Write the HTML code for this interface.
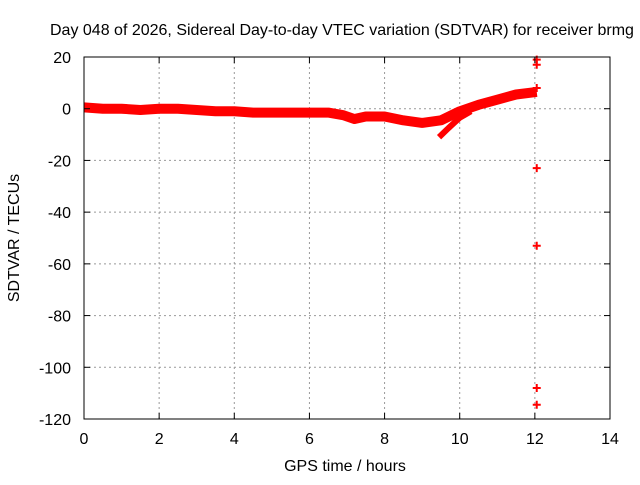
<!DOCTYPE html>
<html><head><meta charset="utf-8"><style>
body{margin:0;background:#fff}
svg text{font-family:"Liberation Sans",sans-serif;font-size:16px;fill:#000}
</style></head><body>
<svg id="c" width="640" height="480">
<rect width="640" height="480" fill="#fff"/>
<text x="50" y="35">Day 048 of 2026, Sidereal Day-to-day VTEC variation (SDTVAR) for receiver brmg</text>
<text x="345" y="471" text-anchor="middle">GPS time / hours</text>
<text transform="translate(19,238) rotate(-90)" text-anchor="middle">SDTVAR / TECUs</text>
<g id="grid"></g><g id="data"></g>
<rect x="84" y="57" width="526" height="362" fill="none" stroke="#000" stroke-width="1"/>
<g id="ticks"></g>
</svg>
<script>
const xTicks=[0,2,4,6,8,10,12,14];
const yTicks=[20,0,-20,-40,-60,-80,-100,-120];
const mainT=[0,0.5,1,1.5,2,2.5,3,3.5,4,4.5,5,5.5,6,6.5,6.9,7.2,7.5,8,8.5,9,9.5,10,10.5,11,11.5,12.05];
const mainV=[0.5,0,0,-0.5,0,0,-0.5,-1,-1,-1.5,-1.5,-1.5,-1.5,-1.5,-2.5,-4,-3,-3,-4.5,-5.5,-4.5,-1,1.5,3.5,5.5,6.5];
const branchT=[9.45,9.7,10.0,10.3];
const branchV=[-11,-7.5,-3.5,-1];
const outT=[12.05,12.05,12.05,12.05,12.05,12.05,12.05];
const outV=[19,17,-23,-53,-108,-114.5,8];
const X=t=>84+t*526/14, Y=v=>57+(20-v)*362/140;
const ns="http://www.w3.org/2000/svg";
const mk=(tag,at,p)=>{const e=document.createElementNS(ns,tag);for(const k in at)e.setAttribute(k,at[k]);p.appendChild(e);return e;};
const g=document.getElementById('grid'),tk=document.getElementById('ticks'),d=document.getElementById('data');
xTicks.forEach(t=>{
 if(t>0&&t<14){const l=mk('line',{x1:X(t),x2:X(t),y1:57,y2:419,stroke:'#999','stroke-dasharray':'2,3'},g);
 
 }
 mk('line',{x1:X(t),x2:X(t),y1:419,y2:413,stroke:'#000'},tk);mk('line',{x1:X(t),x2:X(t),y1:57,y2:63,stroke:'#000'},tk);
 const tx=mk('text',{x:X(t),y:444,'text-anchor':'middle'},tk);tx.textContent=t;
 
 
});
yTicks.forEach(v=>{
 if(v>-120&&v<20){const l=mk('line',{x1:84,x2:610,y1:Y(v),y2:Y(v),stroke:'#999','stroke-dasharray':'2,3'},g);
 
 }
 mk('line',{x1:84,x2:90,y1:Y(v),y2:Y(v),stroke:'#000'},tk);mk('line',{x1:610,x2:604,y1:Y(v),y2:Y(v),stroke:'#000'},tk);
 const tx=mk('text',{x:71,y:Y(v)+6,'text-anchor':'end'},tk);tx.textContent=v;
 
 
});
const line=(T,V,w,name)=>{const p=mk('polyline',{points:T.map((t,i)=>X(t)+','+Y(V[i])).join(' '),fill:'none',stroke:'#f00','stroke-width':w,'stroke-linejoin':'round','stroke-linecap':'butt'},d);
 
 };
line(mainT,mainV,10,'sdtvar-main-band');
line(branchT,branchV,6,'sdtvar-branch');
outT.forEach((t,i)=>{const x=X(t),y=Y(outV[i]);
 const p=mk('path',{d:`M${x-4},${y}H${x+4}M${x},${y-4}V${y+4}`,stroke:'#f00','stroke-width':2},d);
 
 });
</script>
</body></html>
